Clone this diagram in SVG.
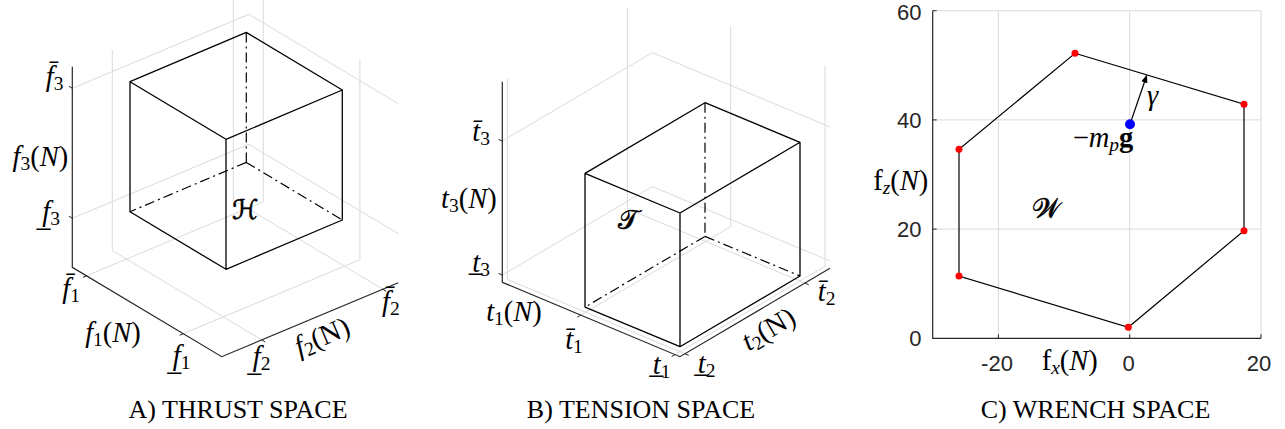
<svg xmlns="http://www.w3.org/2000/svg" width="1285" height="429" viewBox="0 0 1285 429">
<style>
.g{fill:none;stroke:#dadada;stroke-width:1}
.ax{fill:none;stroke:#262626;stroke-width:1.2}
.tk{fill:none;stroke:#262626;stroke-width:1}
.cb{fill:none;stroke:#000;stroke-width:1.3;stroke-linejoin:round}
.hd{fill:none;stroke:#000;stroke-width:1.2;stroke-dasharray:10 4 2 4}
.m{font-family:"Liberation Serif",serif;font-size:28.5px;fill:#000}
.i{font-style:italic}
.s{font-size:19.5px;font-style:normal}
.si{font-size:19.5px;font-style:italic}
.sc{font-family:"DejaVu Serif","DejaVu Sans","Noto Sans",serif;font-size:27px;fill:#000;stroke:#000;stroke-width:0.6}
.n{font-family:"Liberation Sans",sans-serif;font-size:22px;fill:#262626}
.cap{font-family:"Liberation Serif",serif;font-size:26px;fill:#000}
.poly{fill:none;stroke:#000;stroke-width:1.2}
.rd{fill:#f00}
</style>
<defs>
<marker id="arr" viewBox="0 0 10 10" refX="9" refY="5" markerWidth="8" markerHeight="8" markerUnits="userSpaceOnUse" orient="auto">
<path d="M0,1 L10,5 L0,9 z" fill="#000"/>
</marker>
</defs>
<rect width="1285" height="429" fill="#fff"/>

<g id="panelA">
<g id="gridA">
<polyline class="g" points="86.6,275.8 263.2,201.8 263.2,0"/>
<polyline class="g" points="183.3,333.7 359.9,259.7 359.9,59.1"/>
<polyline class="g" points="261.7,339.9 112.3,250.5 112.3,49.9"/>
<polyline class="g" points="382.8,289.2 233.4,199.8 233.4,0"/>
<polyline class="g" points="72.3,88.3 248.9,14.3 398.3,103.7"/>
<polyline class="g" points="72.3,218.3 248.9,144.3 398.3,233.7"/>
</g>
<g id="axesA">
<polyline class="ax" points="72.3,66.7 72.3,267.3 221.7,356.7 398.3,282.7"/>
<line class="tk" x1="72.3" y1="88.3" x2="68.9" y2="86.2"/>
<line class="tk" x1="72.3" y1="218.3" x2="68.9" y2="216.2"/>
<line class="tk" x1="86.6" y1="275.8" x2="83" y2="277.3"/>
<line class="tk" x1="183.3" y1="333.7" x2="179.7" y2="335.2"/>
<line class="tk" x1="261.7" y1="339.9" x2="265.1" y2="342"/>
<line class="tk" x1="382.8" y1="289.2" x2="386.2" y2="291.3"/>
</g>
<g id="cubeA">
<path class="hd" d="M246.3,32.4 L246.3,162.4 M246.3,162.4 L130,211.7 M246.3,162.4 L342.3,220"/>
<path class="cb" d="M130,81.7 L246.3,32.4 L342.3,90 L226,139.3 Z M130,81.7 L130,211.7 L226,269.3 L342.3,220 L342.3,90 M226,139.3 L226,269.3"/>
</g>
<g id="labelsA">
<text class="m" x="63.5" y="86" text-anchor="end"><tspan class="i">f&#x304;</tspan><tspan class="s" dy="4">3</tspan></text>
<text class="m" x="68.3" y="166" text-anchor="end"><tspan class="i">f</tspan><tspan class="s" dy="4">3</tspan><tspan dy="-4">(</tspan><tspan class="i">N</tspan>)</text>
<text class="m" x="60" y="221" text-anchor="end"><tspan class="i">f&#x332;</tspan><tspan class="s" dy="4">3</tspan></text>
<text class="m" x="71.2" y="297.5" text-anchor="middle"><tspan class="i">f&#x304;</tspan><tspan class="s" dy="4">1</tspan></text>
<text class="m" x="113" y="341.5" text-anchor="middle"><tspan class="i">f</tspan><tspan class="s" dy="4">1</tspan><tspan dy="-4">(</tspan><tspan class="i">N</tspan>)</text>
<text class="m" x="181.7" y="365" text-anchor="middle"><tspan class="i">f&#x332;</tspan><tspan class="s" dy="4">1</tspan></text>
<text class="m" x="261.7" y="366" text-anchor="middle"><tspan class="i">f&#x332;</tspan><tspan class="s" dy="4">2</tspan></text>
<text class="m" transform="translate(322.5,337.5) rotate(-22.8)" x="0" y="8" text-anchor="middle"><tspan class="i">f</tspan><tspan class="s" dy="4">2</tspan><tspan dy="-4">(N)</tspan></text>
<text class="m" x="390.8" y="311" text-anchor="middle"><tspan class="i">f&#x304;</tspan><tspan class="s" dy="4">2</tspan></text>
<text class="sc" x="245" y="219" text-anchor="middle">ℋ</text>
</g>
<text class="cap" x="238" y="418" text-anchor="middle">A) THRUST SPACE</text>
</g>

<g id="panelB">
<g id="gridB">
<polyline class="g" points="580.7,315.1 730.7,226.7 730.7,26.1"/>
<polyline class="g" points="675,354.6 825,266.2 825,65.6"/>
<polyline class="g" points="685,353.8 507.3,279.4 507.3,78.8"/>
<polyline class="g" points="805,283.1 627.3,208.7 627.3,8.1"/>
<polyline class="g" points="502.3,141 652.3,52.6 830,127"/>
<polyline class="g" points="502.3,275 652.3,186.6 830,261"/>
</g>
<g id="axesB">
<polyline class="ax" points="502.3,81.7 502.3,282.3 680,356.7 830,268.3"/>
<line class="tk" x1="502.3" y1="141" x2="498.6" y2="139.5"/>
<line class="tk" x1="502.3" y1="275" x2="498.6" y2="273.5"/>
<line class="tk" x1="580.7" y1="315.1" x2="577.3" y2="317.1"/>
<line class="tk" x1="675" y1="354.6" x2="671.6" y2="356.6"/>
<line class="tk" x1="685" y1="353.8" x2="688.7" y2="355.4"/>
<line class="tk" x1="805" y1="283.1" x2="808.7" y2="284.7"/>
</g>
<g id="cubeB">
<path class="hd" d="M705,102.7 L705,236.4 M705,236.4 L585,307.1 M705,236.4 L800,276"/>
<path class="cb" d="M585,173.4 L705,102.7 L800,142.3 L680,213 Z M585,173.4 L585,307.1 L680,346.7 L800,276 L800,142.3 M680,213 L680,346.7"/>
</g>
<g id="labelsB">
<text class="m" x="490" y="141" text-anchor="end"><tspan class="i">t&#x304;</tspan><tspan class="s" dy="4">3</tspan></text>
<text class="m" x="496.7" y="208" text-anchor="end"><tspan class="i">t</tspan><tspan class="s" dy="4">3</tspan><tspan dy="-4">(</tspan><tspan class="i">N</tspan>)</text>
<text class="m" x="490" y="272" text-anchor="end"><tspan class="i">t&#x332;</tspan><tspan class="s" dy="4">3</tspan></text>
<text class="m" x="514" y="321" text-anchor="middle"><tspan class="i">t</tspan><tspan class="s" dy="4">1</tspan><tspan dy="-4">(</tspan><tspan class="i">N</tspan>)</text>
<text class="m" x="574" y="349" text-anchor="middle"><tspan class="i">t&#x304;</tspan><tspan class="s" dy="4">1</tspan></text>
<text class="m" x="661.7" y="374" text-anchor="middle"><tspan class="i">t&#x332;</tspan><tspan class="s" dy="4">1</tspan></text>
<text class="m" x="706.7" y="372.5" text-anchor="middle"><tspan class="i">t&#x332;</tspan><tspan class="s" dy="4">2</tspan></text>
<text class="m" transform="translate(769,330) rotate(-30.5)" x="0" y="8" text-anchor="middle"><tspan class="i">t</tspan><tspan class="s" dy="4">2</tspan><tspan dy="-4">(N)</tspan></text>
<text class="m" x="826.7" y="301" text-anchor="middle"><tspan class="i">t&#x304;</tspan><tspan class="s" dy="4">2</tspan></text>
<text class="sc" x="628" y="229" text-anchor="middle">𝒯</text>
</g>
<text class="cap" x="641" y="418" text-anchor="middle">B) TENSION SPACE</text>
</g>

<g id="panelC">
<g id="gridC">
<line class="g" x1="998.4" y1="10.7" x2="998.4" y2="338.3"/>
<line class="g" x1="1129.7" y1="10.7" x2="1129.7" y2="338.3"/>
<line class="g" x1="932.7" y1="119.9" x2="1261" y2="119.9"/>
<line class="g" x1="932.7" y1="229.1" x2="1261" y2="229.1"/>
<polyline class="g" points="932.7,10.7 1261,10.7 1261,338.3"/>
</g>
<g id="axesC">
<polyline class="ax" points="932.7,10.7 932.7,338.3 1261,338.3"/>
<path class="tk" d="M932.7,10.7 h4 M932.7,119.9 h4 M932.7,229.1 h4 M998.4,338.3 v-4 M1129.7,338.3 v-4 M1261,338.3 v-4"/>
<text class="n" x="921.5" y="20" text-anchor="end">60</text>
<text class="n" x="921.5" y="128" text-anchor="end">40</text>
<text class="n" x="921.5" y="237" text-anchor="end">20</text>
<text class="n" x="921.5" y="346" text-anchor="end">0</text>
<text class="n" x="997" y="371" text-anchor="middle">-20</text>
<text class="n" x="1128.5" y="371" text-anchor="middle">0</text>
<text class="n" x="1259" y="371" text-anchor="middle">20</text>
<text class="m" x="928.3" y="190" text-anchor="end">f<tspan class="si" dy="4">z</tspan><tspan dy="-4">(</tspan><tspan class="i">N</tspan>)</text>
<text class="m" x="1041.7" y="370">f<tspan class="si" dy="4">x</tspan><tspan dy="-4">(</tspan><tspan class="i">N</tspan>)</text>
</g>
<g id="hull">
<polygon class="poly" points="1075,53.3 1244,104.3 1244,230.7 1128.3,327.3 959,276 959,149.3"/>
<circle class="rd" cx="1075" cy="53.3" r="3.5"/>
<circle class="rd" cx="1244" cy="104.3" r="3.5"/>
<circle class="rd" cx="1244" cy="230.7" r="3.5"/>
<circle class="rd" cx="1128.3" cy="327.3" r="3.5"/>
<circle class="rd" cx="959" cy="276" r="3.5"/>
<circle class="rd" cx="959" cy="149.3" r="3.5"/>
</g>
<g id="connectors">
<line x1="1130" y1="124.3" x2="1146.7" y2="75.5" stroke="#000" stroke-width="1.2" marker-end="url(#arr)"/>
</g>
<g id="mg">
<circle cx="1130" cy="124.3" r="5" fill="#00f"/>
<text class="m" x="1072.7" y="147">−<tspan class="i">m</tspan><tspan class="si" dy="4">p</tspan><tspan dy="-4" font-weight="bold">g</tspan></text>
</g>
<text class="m i" x="1152.5" y="105" text-anchor="middle">γ</text>
<text class="sc" x="1045.5" y="218" text-anchor="middle">𝒲</text>
<text class="cap" x="1095.5" y="418" text-anchor="middle">C) WRENCH SPACE</text>
</g>
</svg>
